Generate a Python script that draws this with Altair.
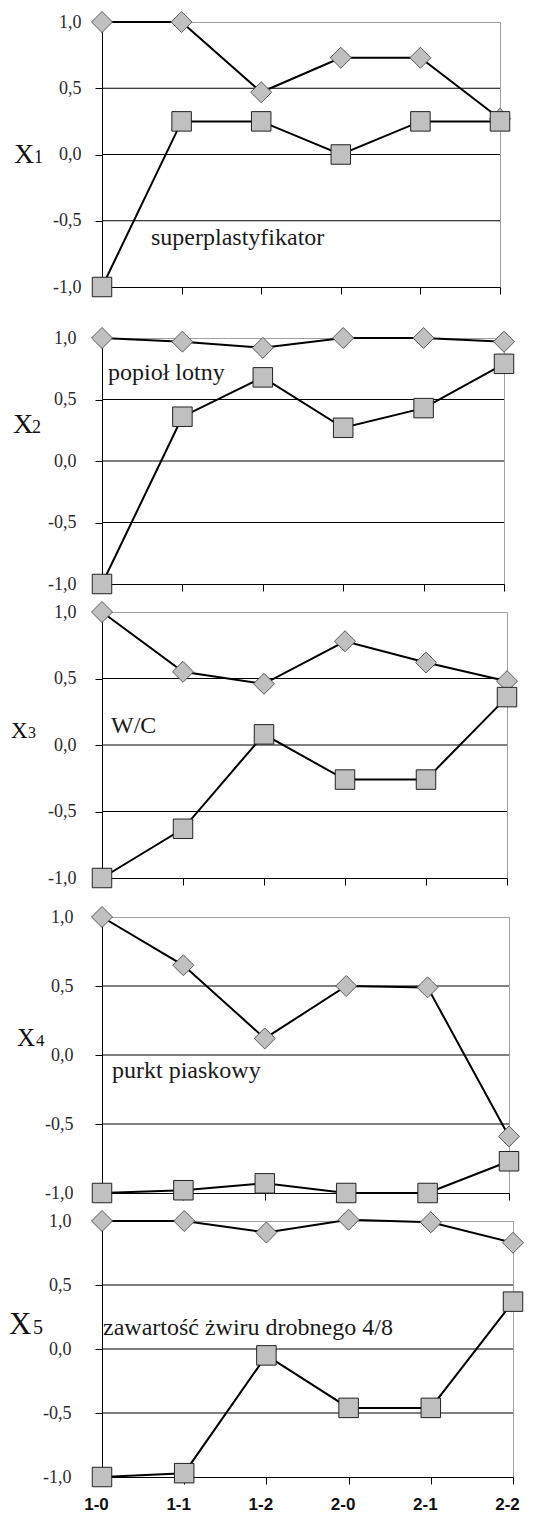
import altair as alt
import pandas as pd

categories = ["1-0", "1-1", "1-2", "2-0", "2-1", "2-2"]

x1_diamond = [1.0, 1.0, 0.47, 0.73, 0.73, 0.27]
x1_square = [-1.0, 0.25, 0.25, 0.0, 0.25, 0.25]
x2_diamond = [1.0, 0.97, 0.92, 1.0, 1.0, 0.97]
x2_square = [-1.0, 0.36, 0.68, 0.27, 0.43, 0.79]
x3_diamond = [1.0, 0.55, 0.46, 0.78, 0.62, 0.48]
x3_square = [-1.0, -0.63, 0.08, -0.26, -0.26, 0.36]
x4_diamond = [1.0, 0.65, 0.12, 0.50, 0.49, -0.59]
x4_square = [-1.0, -0.98, -0.93, -1.0, -1.0, -0.77]
x5_diamond = [1.0, 1.0, 0.91, 1.01, 0.99, 0.83]
x5_square = [-1.0, -0.97, -0.05, -0.46, -0.46, 0.37]

diamonds = [x1_diamond, x2_diamond, x3_diamond, x4_diamond, x5_diamond]
squares = [x1_square, x2_square, x3_square, x4_square, x5_square]
digits = ["1", "2", "3", "4", "5"]
annotations = ["superplastyfikator", "popioł lotny", "W/C", "purkt piaskowy",
               "zawartość żwiru drobnego 4/8"]
y_ticks = [-1.0, -0.5, 0.0, 0.5, 1.0]
grid_values = [-0.5, 0.0, 0.5]

ORIGIN = 93  # plot-area left offset from the chart's left edge (pixels)

# layout per panel (pixels)
layout = [
    dict(w=398, h=265, a=13, b=24, ypad=14, xx=-88, xy=141, xs=28, dx=-68, ds=18, ax=49, ay=223),
    dict(w=402, h=246, a=25, b=13, ypad=19, xx=-89, xy=95, xs=28, dx=-70, ds=18, ax=6, ay=42),
    dict(w=405, h=266, a=13, b=18, ypad=19, xx=-91, xy=126, xs=23, dx=-74, ds=16, ax=9, ay=121),
    dict(w=407, h=276, a=19, b=12, ypad=22, xx=-85, xy=129, xs=25, dx=-66, ds=17, ax=10, ay=161),
    dict(w=411, h=256, a=13, b=12, ypad=24, xx=-93, xy=113, xs=31, dx=-69, ds=20, ax=1, ay=114),
]

label_expr = "(datum.value < 0 ? '-' : '') + replace(format(abs(datum.value), '.1f'), '.', ',')"


def panel(i):
    L = layout[i]
    w, h = L["w"], L["h"]
    last = i == len(layout) - 1
    xenc = alt.X(
        "cat:O",
        sort=categories,
        scale=alt.Scale(type="point", domain=categories, padding=0),
        axis=alt.Axis(title=None, labels=last, ticks=True, tickSize=7, tickColor="black",
                      domainColor="black", domainWidth=1, grid=False, labelAngle=0,
                      labelFont="Liberation Sans", labelFontWeight="bold", labelFontSize=17,
                      labelColor="#111111", labelPadding=12, labelOffset=-6),
    )
    yenc = alt.Y(
        "value:Q",
        scale=alt.Scale(domain=[-1, 1], nice=False, zero=False),
        axis=alt.Axis(title=None, values=y_ticks, labelExpr=label_expr, tickSize=7,
                      tickColor="black", domainColor="black", domainWidth=1, grid=False,
                      labelFont="Liberation Serif", labelFontSize=18, labelColor="#2a2a2a",
                      labelPadding=L["ypad"]),
    )
    dd = pd.DataFrame({"cat": categories, "value": diamonds[i]})
    sd = pd.DataFrame({"cat": categories, "value": squares[i]})
    gd = pd.DataFrame({"value": grid_values})
    one = pd.DataFrame({"t": [0]})

    grid = alt.Chart(gd).mark_rule(color="black", strokeWidth=1).encode(
        y=yenc, x=alt.value(0), x2=alt.value(w))
    bound = alt.Chart(one).mark_rule(opacity=0, strokeWidth=0).encode(
        x=alt.value(-ORIGIN), y=alt.value(-L["a"]), y2=alt.value(h + L["b"]))
    line_d = alt.Chart(dd).mark_line(color="black", strokeWidth=2).encode(x=xenc, y=yenc)
    pts_d = alt.Chart(dd).mark_point(shape="diamond", filled=True, fill="#c0c0c0",
                                     stroke="#5a5a5a", strokeWidth=1, size=440,
                                     opacity=1).encode(x=xenc, y=yenc)
    line_s = alt.Chart(sd).mark_line(color="black", strokeWidth=2).encode(x=xenc, y=yenc)
    pts_s = alt.Chart(sd).mark_square(size=380, fill="#c0c0c0", stroke="#222222",
                                      strokeWidth=1, opacity=1).encode(x=xenc, y=yenc)
    ann = alt.Chart(one).mark_text(text=annotations[i], align="left", baseline="alphabetic",
                                   font="Liberation Serif", fontSize=24,
                                   color="#1a1a1a").encode(x=alt.value(L["ax"]), y=alt.value(L["ay"]))
    xt = alt.Chart(one).mark_text(text="X", align="left", baseline="alphabetic",
                                  font="Liberation Serif", fontSize=L["xs"],
                                  color="#111111").encode(x=alt.value(L["xx"]), y=alt.value(L["xy"]))
    dt = alt.Chart(one).mark_text(text=digits[i], align="left", baseline="alphabetic",
                                  font="Liberation Serif", fontSize=L["ds"],
                                  color="#111111").encode(x=alt.value(L["dx"]), y=alt.value(L["xy"]))
    return alt.layer(grid, bound, ann, line_d, pts_d, line_s, pts_s, xt, dt).properties(width=w, height=h)


chart = alt.vconcat(*[panel(i) for i in range(5)], spacing=0).properties(
    padding=0, background="white"
).configure_view(stroke="#a0a0a0", strokeWidth=1)

chart.save("out.html", embed_options={"renderer": "svg", "actions": False})
